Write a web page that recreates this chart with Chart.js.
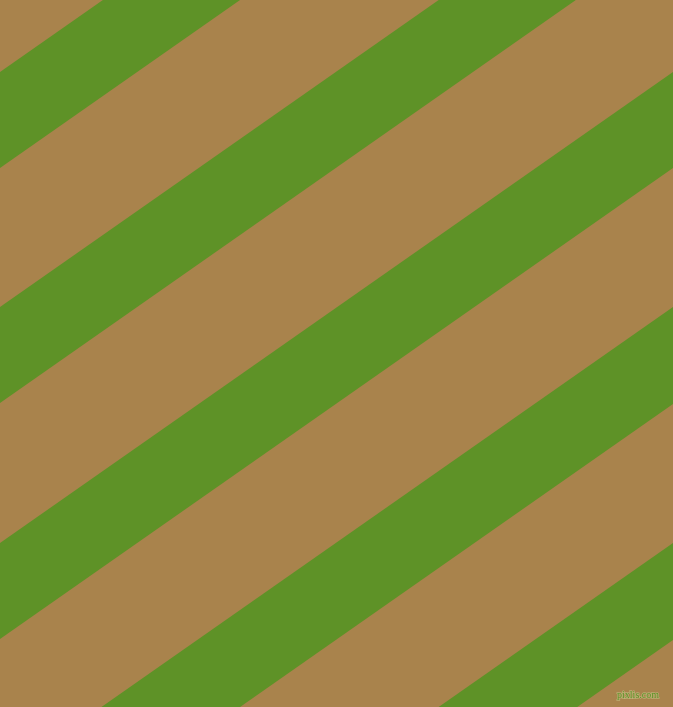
<!DOCTYPE html>
<html>
<head>
<meta charset="utf-8">
<script src="https://cdn.jsdelivr.net/npm/chart.js@4/dist/chart.umd.min.js"></script>
<style>
  html, body { margin: 0; padding: 0; background: #a9834c; overflow: hidden; }
  #stripes { display: block; }
</style>
</head>
<body>
<canvas id="stripes" width="673" height="707"></canvas>
<script>
// stripe edges (pixels from top, at left and right edge)
const upperLeft = [72, 307, 543, 778, 1014];
const lowerLeft = [168, 403, 639, 875, 1111];
const upperRight = [-399, -164, 72, 307, 543];
const lowerRight = [-303, -68, 168, 404, 640];
const xEdges = [0, 673];

const tan = "#a9834c";
const green = "#5e9227";

const datasets = [];
for (let i = 0; i < upperLeft.length; i++) {
  datasets.push({
    label: "top " + i,
    data: [
      { x: xEdges[0], y: upperLeft[i] },
      { x: xEdges[1], y: upperRight[i] },
    ],
    showLine: true,
    borderWidth: 0,
    pointRadius: 0,
    fill: false,
  });
  datasets.push({
    label: "bottom " + i,
    data: [
      { x: xEdges[0], y: lowerLeft[i] },
      { x: xEdges[1], y: lowerRight[i] },
    ],
    showLine: true,
    borderWidth: 0,
    pointRadius: 0,
    backgroundColor: green,
    fill: "-1",
  });
}

const background = {
  id: "background",
  beforeDraw(chart) {
    const ctx = chart.ctx;
    ctx.save();
    ctx.fillStyle = tan;
    ctx.fillRect(0, 0, chart.width, chart.height);
    ctx.restore();
  },
  afterDraw(chart) {
    const ctx = chart.ctx;
    ctx.save();
    ctx.font = "10px 'Liberation Sans Narrow'";
    ctx.textAlign = "right";
    ctx.textBaseline = "alphabetic";
    ctx.lineWidth = 1.5;
    ctx.strokeStyle = "rgba(200, 200, 140, 0.6)";
    ctx.strokeText("pixlis.com", 659, 698);
    ctx.fillStyle = "#5e9227";
    ctx.fillText("pixlis.com", 659, 698);
    ctx.restore();
  },
};

const stripes = new Chart(document.getElementById("stripes").getContext("2d"), {
  type: "scatter",
  data: { datasets: datasets },
  options: {
    responsive: false,
    animation: false,
    layout: { padding: 0 },
    elements: { line: { tension: 0 } },
    scales: {
      x: { type: "linear", min: 0, max: 673, display: false },
      y: { type: "linear", min: 0, max: 707, reverse: true, display: false },
    },
    plugins: {
      legend: { display: false },
      tooltip: { enabled: false },
    },
  },
  plugins: [background],
});
</script>
</body>
</html>
